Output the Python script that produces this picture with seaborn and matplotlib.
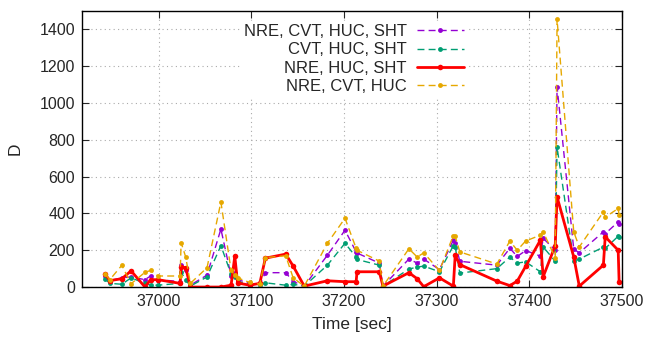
import numpy as np
import pandas as pd
import matplotlib
matplotlib.use("Agg")
import matplotlib.pyplot as plt
import seaborn as sns

time_s = [36942, 36947, 36960, 36970, 36985, 36991, 36999, 37023, 37024, 37029,
          37034, 37052, 37067, 37078, 37082, 37085, 37098, 37109, 37115, 37137,
          37145, 37157, 37182, 37201, 37213, 37214, 37238, 37242, 37270, 37279,
          37286, 37303, 37318, 37320, 37325, 37365, 37379, 37387, 37396, 37412,
          37415, 37428, 37430, 37448, 37454, 37480, 37482, 37496, 37497]

nre_cvt_huc_sht = [60, 35, 50, 55, 40, 60, 40, 30, 120, 90,
                   10, 65, 315, 60, 75, 40, 20, 15, 78, 78,
                   30, 5, 173, 309, 191, 185, 130, 5, 152, 130,
                   152, 95, 255, 240, 140, 119, 211, 166, 198, 168,
                   265, 200, 1089, 206, 186, 300, 290, 354, 340]
cvt_huc_sht = [45, 20, 15, 50, 20, 10, 10, 20, 80, 40,
               5, 55, 225, 70, 55, 30, 15, 10, 23, 10,
               15, 5, 119, 238, 163, 150, 119, 5, 98, 108,
               114, 83, 225, 218, 76, 100, 163, 130, 137, 83,
               218, 140, 760, 142, 152, 217, 210, 276, 270]
nre_huc_sht = [70, 35, 45, 88, 0, 40, 40, 20, 110, 105,
               0, 0, 0, 10, 168, 22, 10, 20, 157, 179,
               114, 5, 34, 29, 29, 83, 83, 5, 78, 45,
               2, 50, 5, 173, 122, 32, 8, 32, 112, 255,
               56, 225, 490, 164, 5, 119, 273, 200, 29]
nre_cvt_huc = [70, 40, 118, 18, 80, 90, 60, 60, 242, 163,
               20, 105, 462, 90, 65, 50, 25, 15, 160, 170,
               50, 5, 238, 374, 211, 200, 141, 5, 208, 163,
               186, 90, 280, 275, 191, 125, 250, 200, 250, 282,
               300, 160, 1456, 300, 218, 408, 380, 427, 390]

labels = ["NRE, CVT, HUC, SHT", "CVT, HUC, SHT", "NRE, HUC, SHT", "NRE, CVT, HUC"]
series = [nre_cvt_huc_sht, cvt_huc_sht, nre_huc_sht, nre_cvt_huc]
colors = ["#9400D3", "#009E73", "#FF0000", "#E6A800"]
styles = [(0, (5, 3)), (0, (5, 3)), "-", (0, (5, 3))]
widths = [1.0, 1.0, 2.0, 1.0]

sns.set_style("ticks")
plt.rcParams["font.family"] = ["Liberation Sans", "DejaVu Sans"]

fig = plt.figure(figsize=(6.56, 3.45), dpi=100)
ax = fig.add_axes([0.125, 0.168, 0.823, 0.8])

for lab, vals, c, ls, lw in zip(labels, series, colors, styles, widths):
    df = pd.DataFrame({"t": time_s, "v": vals})
    sns.lineplot(data=df, x="t", y="v", ax=ax, color=c, linestyle=ls, linewidth=lw,
                 marker="o", markersize=4 if lw > 1 else 3.5, markeredgewidth=0,
                 estimator=None, sort=False, label=lab)

ax.set_xlim(36917, 37500)
ax.set_ylim(0, 1500)
ax.set_xticks([37000, 37100, 37200, 37300, 37400, 37500])
ax.set_yticks(range(0, 1401, 200))
ax.grid(True, color="#aaaaaa", linestyle=(0, (1, 3)), linewidth=0.8)
ax.tick_params(direction="in", top=True, right=True, labelsize=11.5, length=5, width=0.8, pad=5)
for s in ax.spines.values():
    s.set_linewidth(1.0)
    s.set_color("black")
ax.set_xlabel("Time [sec]", fontsize=12.5, labelpad=6)
ax.set_ylabel("D", fontsize=12.5)
ax.yaxis.set_label_coords(-0.11, 0.5)

leg = ax.legend(loc="upper right", bbox_to_anchor=(0.713, 0.965), markerfirst=False,
                frameon=True, fancybox=False, fontsize=12, handlelength=2.8,
                labelspacing=0.2, handletextpad=0.6, borderpad=0.2, borderaxespad=0)
leg.get_frame().set_facecolor("white")
leg.get_frame().set_edgecolor("white")
leg.get_frame().set_alpha(1)

fig.savefig("out.png", dpi=100)
